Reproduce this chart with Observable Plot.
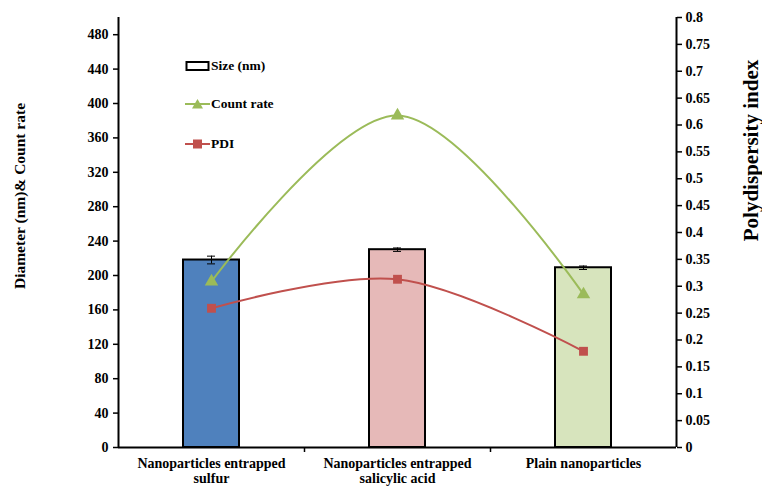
<!DOCTYPE html>
<html><head><meta charset="utf-8">
<script src="https://cdn.jsdelivr.net/npm/d3@7"></script>
<script src="https://cdn.jsdelivr.net/npm/@observablehq/plot@0.6"></script>
<style>
body{margin:0;background:#fff;}
#wrap{position:relative;width:762px;height:487px;overflow:hidden;font-family:'Liberation Serif','Times New Roman','DejaVu Serif',serif;font-weight:bold;}
#wrap svg text{font-family:'Liberation Serif','Times New Roman','DejaVu Serif',serif;}
.leg{position:absolute;font-size:13.5px;display:flex;align-items:center;gap:1px;}
.ytitle{position:absolute;white-space:nowrap;transform-origin:center;}
</style></head>
<body><div id="wrap"></div>
<script>
const categories = ["Nanoparticles entrapped sulfur", "Nanoparticles entrapped salicylic acid", "Plain nanoparticles"];
const xLabels = ["Nanoparticles entrapped\nsulfur", "Nanoparticles entrapped\nsalicylic acid", "Plain nanoparticles"];
const sizeNm = [218, 230, 209];
const sizeErr = [4.5, 2, 2];
const countRate = [193, 386, 178];
const pdi = [0.259, 0.313, 0.179];
const barColors = ["#4F81BD", "#E6B9B8", "#D7E4BD"];
const leftTicks = d3.range(0, 481, 40);
const rightTicks = d3.range(0, 0.8001, 0.05).map(v => +v.toFixed(2));

const PDI_K = 625; // 0.8 PDI == 500 on left axis
const W = 762, H = 487, ML = 118, MR = 86, MT = 17, MB = 40;
const bw = (W - ML - MR) / categories.length;
const FONT = "'Liberation Serif','Times New Roman','DejaVu Serif',serif";

const data = categories.map((c, i) => ({
  c, size: sizeNm[i], err: sizeErr[i], count: countRate[i], pdi: pdi[i], color: barColors[i], label: xLabels[i]
}));

const chart = Plot.plot({
  width: W, height: H,
  marginLeft: ML, marginRight: MR, marginTop: MT, marginBottom: MB,
  style: {fontFamily: FONT, fontWeight: "bold", fontSize: "14px", color: "#000", background: "transparent"},
  x: {domain: categories, padding: 0, label: null},
  y: {domain: [0, 500], label: null},
  marks: [
    Plot.barY(data, {x: "c", y: "size", fill: "color", stroke: "#000", strokeWidth: 2, insetLeft: (bw - 56) / 2, insetRight: (bw - 56) / 2}),
    Plot.ruleX(data, {x: "c", y1: d => d.size - d.err, y2: d => d.size + d.err, stroke: "#000", strokeWidth: 1}),
    Plot.tickY(data, {x: "c", y: d => d.size + d.err, stroke: "#000", strokeWidth: 1, insetLeft: bw / 2 - 4, insetRight: bw / 2 - 4}),
    Plot.tickY(data, {x: "c", y: d => d.size - d.err, stroke: "#000", strokeWidth: 1, insetLeft: bw / 2 - 4, insetRight: bw / 2 - 4}),
    Plot.line(data, {x: "c", y: "count", stroke: "#9BBB59", strokeWidth: 2, curve: "catmull-rom"}),
    Plot.dot(data, {x: "c", y: "count", symbol: "triangle", fill: "#9BBB59", r: 5}),
    Plot.line(data, {x: "c", y: d => d.pdi * PDI_K, stroke: "#C0504D", strokeWidth: 2, curve: "catmull-rom"}),
    Plot.dot(data, {x: "c", y: d => d.pdi * PDI_K, symbol: "square", fill: "#C0504D", r: 5}),
    // axis lines
    Plot.ruleY([0], {stroke: "#000", strokeWidth: 2}),
    Plot.ruleX([categories[0]], {dx: -bw / 2, stroke: "#000", strokeWidth: 2}),
    Plot.ruleX([categories[2]], {dx: bw / 2, stroke: "#000", strokeWidth: 2}),
    Plot.ruleX(categories.slice(1), {dx: -bw / 2, y1: 0, y2: 0, insetBottom: -5, stroke: "#000", strokeWidth: 1.5}),
    Plot.axisY({anchor: "left", ticks: leftTicks, tickSize: 5, tickPadding: 5, label: null, fontSize: 14, strokeWidth: 1.5}),
    Plot.axisY({anchor: "right", ticks: rightTicks.map(v => v * PDI_K), tickFormat: v => String(+(v / PDI_K).toFixed(2)), tickSize: 5, tickPadding: 4, label: null, fontSize: 14, strokeWidth: 1.5}),
    Plot.axisX({ticks: [], label: null}),
    Plot.text(data, {x: "c", text: "label", frameAnchor: "bottom", dy: 10, lineAnchor: "top", fontSize: 14, lineHeight: 1.08})
  ]
});

const wrap = document.getElementById("wrap");
wrap.appendChild(chart);

function addLegend(top, html, label) {
  const d = document.createElement("div");
  d.className = "leg";
  d.style.left = "185px"; d.style.top = (top - 9) + "px";
  d.innerHTML = html + "<span>" + label + "</span>";
  wrap.appendChild(d);
}
addLegend(67, '<svg width="25" height="12"><rect x="1.5" y="2" width="22" height="8" fill="#fff" stroke="#000" stroke-width="2"/></svg>', "Size (nm)");
addLegend(105, '<svg width="25" height="12"><line x1="0" y1="6" x2="25" y2="6" stroke="#9BBB59" stroke-width="2"/><path d="M12.5,1 L18,10.5 L7,10.5 Z" fill="#9BBB59"/></svg>', "Count rate");
addLegend(145, '<svg width="25" height="12"><line x1="0" y1="6" x2="25" y2="6" stroke="#C0504D" stroke-width="2"/><rect x="8" y="1.5" width="9" height="9" fill="#C0504D"/></svg>', "PDI");

const lt = document.createElement("div");
lt.className = "ytitle";
lt.style.fontSize = "15.5px";
lt.textContent = "Diameter (nm)& Count rate";
wrap.appendChild(lt);
const lw = lt.offsetWidth, lh = lt.offsetHeight;
lt.style.left = (20 - lw / 2) + "px"; lt.style.top = (196 - lh / 2) + "px";
lt.style.transform = "rotate(-90deg)";

const rt = document.createElement("div");
rt.className = "ytitle";
rt.style.fontSize = "21px";
rt.textContent = "Polydispersity index";
wrap.appendChild(rt);
const rw = rt.offsetWidth, rh = rt.offsetHeight;
rt.style.left = (751 - rw / 2) + "px"; rt.style.top = (150 - rh / 2) + "px";
rt.style.transform = "rotate(-90deg)";
</script></body></html>
